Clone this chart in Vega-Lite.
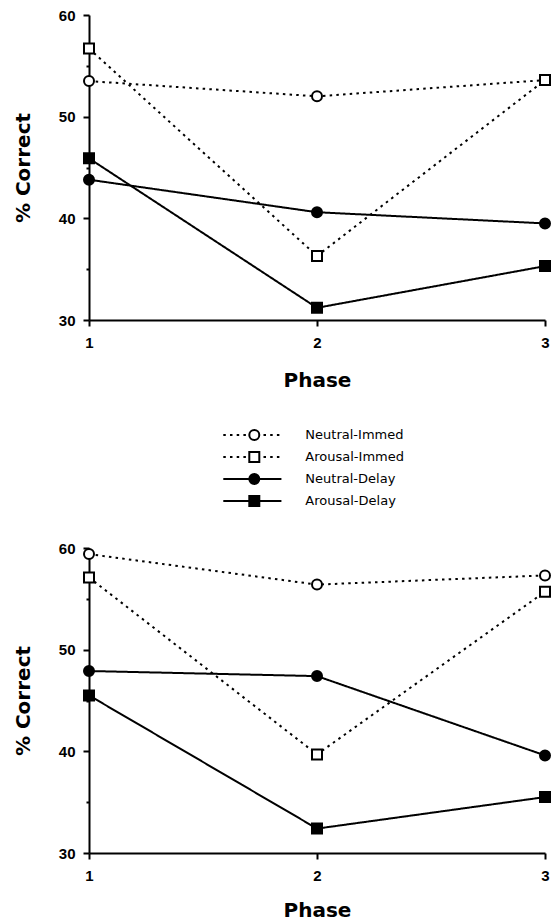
{
  "$schema": "https://vega.github.io/schema/vega-lite/v6.json",
  "background": "white",
  "padding": {"left": 13, "top": 8, "right": 0, "bottom": 0},
  "spacing": 31,
  "data": {
    "values": [
      {"panel": "top", "series": "Neutral-Immed", "phase": 1, "pct": 53.5},
      {"panel": "top", "series": "Neutral-Immed", "phase": 2, "pct": 52.0},
      {"panel": "top", "series": "Neutral-Immed", "phase": 3, "pct": 53.6},
      {"panel": "top", "series": "Arousal-Immed", "phase": 1, "pct": 56.7},
      {"panel": "top", "series": "Arousal-Immed", "phase": 2, "pct": 36.3},
      {"panel": "top", "series": "Arousal-Immed", "phase": 3, "pct": 53.6},
      {"panel": "top", "series": "Neutral-Delay", "phase": 1, "pct": 43.8},
      {"panel": "top", "series": "Neutral-Delay", "phase": 2, "pct": 40.6},
      {"panel": "top", "series": "Neutral-Delay", "phase": 3, "pct": 39.5},
      {"panel": "top", "series": "Arousal-Delay", "phase": 1, "pct": 45.9},
      {"panel": "top", "series": "Arousal-Delay", "phase": 2, "pct": 31.2},
      {"panel": "top", "series": "Arousal-Delay", "phase": 3, "pct": 35.3},
      {"panel": "bottom", "series": "Neutral-Immed", "phase": 1, "pct": 59.4},
      {"panel": "bottom", "series": "Neutral-Immed", "phase": 2, "pct": 56.4},
      {"panel": "bottom", "series": "Neutral-Immed", "phase": 3, "pct": 57.3},
      {"panel": "bottom", "series": "Arousal-Immed", "phase": 1, "pct": 57.1},
      {"panel": "bottom", "series": "Arousal-Immed", "phase": 2, "pct": 39.7},
      {"panel": "bottom", "series": "Arousal-Immed", "phase": 3, "pct": 55.7},
      {"panel": "bottom", "series": "Neutral-Delay", "phase": 1, "pct": 47.9},
      {"panel": "bottom", "series": "Neutral-Delay", "phase": 2, "pct": 47.4},
      {"panel": "bottom", "series": "Neutral-Delay", "phase": 3, "pct": 39.6},
      {"panel": "bottom", "series": "Arousal-Delay", "phase": 1, "pct": 45.5},
      {"panel": "bottom", "series": "Arousal-Delay", "phase": 2, "pct": 32.4},
      {"panel": "bottom", "series": "Arousal-Delay", "phase": 3, "pct": 35.5}
    ]
  },
  "vconcat": [
    {
      "width": 456,
      "height": 305,
      "transform": [{"filter": "datum.panel === 'top'"}],
      "encoding": {
        "x": {"field": "phase", "type": "ordinal", "scale": {"type": "point", "padding": 0},
              "axis": {"title": "Phase", "labelAngle": 0, "labelOverlap": false, "tickSize": 6, "labelPadding": 9, "titlePadding": 20}},
        "y": {"field": "pct", "type": "quantitative", "scale": {"domain": [30, 60], "nice": false, "zero": false},
              "axis": {"title": "% Correct", "values": [30, 35, 40, 45, 50, 55, 60], "labelExpr": "datum.value % 10 === 0 ? datum.label : ''",
                       "tickSize": {"condition": {"test": "datum.value % 10 === 0", "value": 6}, "value": 3}, "labelPadding": 8, "titlePadding": 25}},
        "detail": {"field": "series"}
      },
      "layer": [
        {"mark": {"type": "line", "color": "black", "strokeWidth": 2},
         "encoding": {"strokeDash": {"field": "series", "type": "nominal",
            "scale": {"domain": ["Neutral-Immed", "Arousal-Immed", "Neutral-Delay", "Arousal-Delay"], "range": [[2.5, 4.2], [2.5, 4.2], [1, 0], [1, 0]]}, "legend": null}}},
        {"mark": {"type": "point", "filled": true, "stroke": "black", "strokeWidth": 2, "size": 100, "opacity": 1},
         "encoding": {
           "shape": {"field": "series", "type": "nominal", "scale": {"domain": ["Neutral-Immed", "Arousal-Immed", "Neutral-Delay", "Arousal-Delay"], "range": ["circle", "square", "circle", "square"]}, "legend": null},
           "fill": {"field": "series", "type": "nominal", "scale": {"domain": ["Neutral-Immed", "Arousal-Immed", "Neutral-Delay", "Arousal-Delay"], "range": ["white", "white", "black", "black"]}, "legend": null}
         }}
      ]
    },
    {
      "width": 456,
      "height": 80,
      "transform": [{"filter": "datum.panel === 'top' && datum.phase === 1"}],
      "encoding": {
        "y": {"field": "series", "type": "nominal", "scale": {"type": "point", "domain": ["Neutral-Immed", "Arousal-Immed", "Neutral-Delay", "Arousal-Delay"], "padding": 0.318, "align": 1}, "axis": null}
      },
      "layer": [
        {"mark": {"type": "rule", "color": "black", "strokeWidth": 2},
         "encoding": {
           "x": {"datum": 1.589, "type": "quantitative", "scale": {"domain": [1, 3], "nice": false, "zero": false}, "axis": null},
           "x2": {"datum": 1.844},
           "strokeDash": {"field": "series", "type": "nominal",
            "scale": {"domain": ["Neutral-Immed", "Arousal-Immed", "Neutral-Delay", "Arousal-Delay"], "range": [[2.5, 4.2], [2.5, 4.2], [1, 0], [1, 0]]}, "legend": null}
         }},
        {"mark": {"type": "point", "filled": true, "stroke": "black", "strokeWidth": 2, "size": 100, "opacity": 1},
         "encoding": {
           "x": {"datum": 1.725, "type": "quantitative", "scale": {"domain": [1, 3], "nice": false, "zero": false}, "axis": null},
           "shape": {"field": "series", "type": "nominal", "scale": {"domain": ["Neutral-Immed", "Arousal-Immed", "Neutral-Delay", "Arousal-Delay"], "range": ["circle", "square", "circle", "square"]}, "legend": null},
           "fill": {"field": "series", "type": "nominal", "scale": {"domain": ["Neutral-Immed", "Arousal-Immed", "Neutral-Delay", "Arousal-Delay"], "range": ["white", "white", "black", "black"]}, "legend": null}
         }},
        {"mark": {"type": "text", "align": "left", "baseline": "middle", "font": "DejaVu Sans", "fontSize": 13, "color": "black"},
         "encoding": {
           "x": {"datum": 1.949, "type": "quantitative", "scale": {"domain": [1, 3], "nice": false, "zero": false}, "axis": null},
           "text": {"field": "series"}
         }}
      ]
    },
    {
      "width": 456,
      "height": 305,
      "transform": [{"filter": "datum.panel === 'bottom'"}],
      "encoding": {
        "x": {"field": "phase", "type": "ordinal", "scale": {"type": "point", "padding": 0},
              "axis": {"title": "Phase", "labelAngle": 0, "labelOverlap": false, "tickSize": 6, "labelPadding": 9, "titlePadding": 17}},
        "y": {"field": "pct", "type": "quantitative", "scale": {"domain": [30, 60], "nice": false, "zero": false},
              "axis": {"title": "% Correct", "values": [30, 35, 40, 45, 50, 55, 60], "labelExpr": "datum.value % 10 === 0 ? datum.label : ''",
                       "tickSize": {"condition": {"test": "datum.value % 10 === 0", "value": 6}, "value": 3}, "labelPadding": 8, "titlePadding": 25}},
        "detail": {"field": "series"}
      },
      "layer": [
        {"mark": {"type": "line", "color": "black", "strokeWidth": 2},
         "encoding": {"strokeDash": {"field": "series", "type": "nominal",
            "scale": {"domain": ["Neutral-Immed", "Arousal-Immed", "Neutral-Delay", "Arousal-Delay"], "range": [[2.5, 4.2], [2.5, 4.2], [1, 0], [1, 0]]}, "legend": null}}},
        {"mark": {"type": "point", "filled": true, "stroke": "black", "strokeWidth": 2, "size": 100, "opacity": 1},
         "encoding": {
           "shape": {"field": "series", "type": "nominal", "scale": {"domain": ["Neutral-Immed", "Arousal-Immed", "Neutral-Delay", "Arousal-Delay"], "range": ["circle", "square", "circle", "square"]}, "legend": null},
           "fill": {"field": "series", "type": "nominal", "scale": {"domain": ["Neutral-Immed", "Arousal-Immed", "Neutral-Delay", "Arousal-Delay"], "range": ["white", "white", "black", "black"]}, "legend": null}
         }}
      ]
    }
  ],
  "config": {
    "view": {"stroke": null},
    "axis": {
      "grid": false,
      "domainColor": "black", "domainWidth": 2,
      "tickColor": "black", "tickWidth": 2,
      "labelFont": "Liberation Sans", "labelFontWeight": "bold", "labelFontSize": 15, "labelColor": "black",
      "titleFont": "DejaVu Sans", "titleFontWeight": "bold", "titleFontSize": 20, "titleColor": "black"
    }
  }
}
